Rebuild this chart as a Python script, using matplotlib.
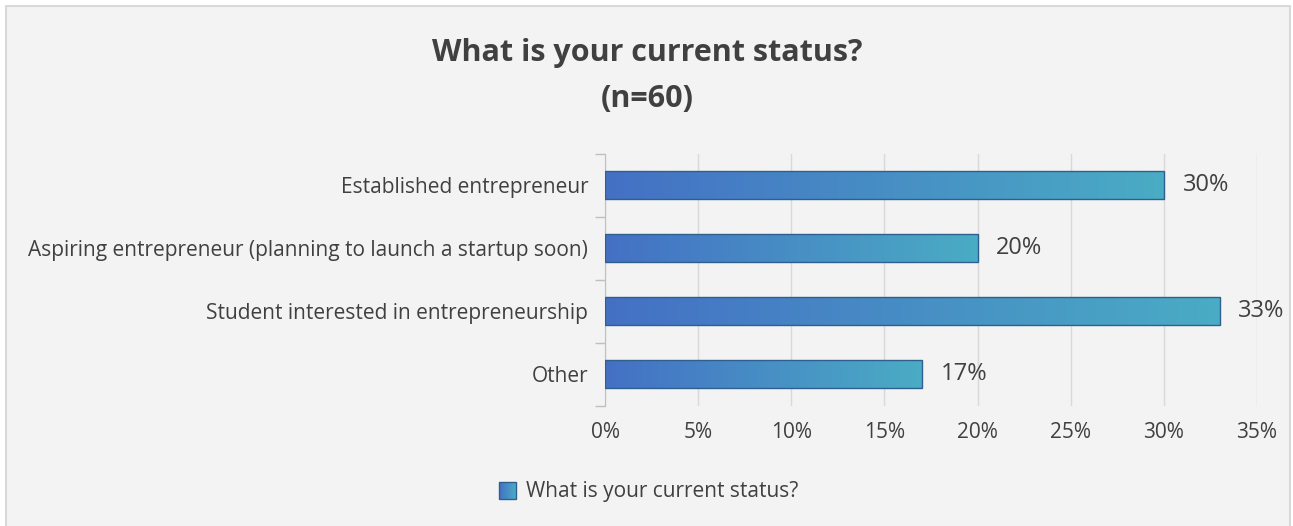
import numpy as np
import matplotlib
matplotlib.use("Agg")
import matplotlib.pyplot as plt
from matplotlib.colors import LinearSegmentedColormap
from matplotlib.patches import Rectangle
from matplotlib.legend_handler import HandlerPatch

# survey answers, share of respondents in percent
categories = ["Established entrepreneur",
              "Aspiring entrepreneur (planning to launch a startup soon)",
              "Student interested in entrepreneurship",
              "Other"]
shares = [30, 20, 33, 17]
x_ticks = [0, 5, 10, 15, 20, 25, 30, 35]
series_name = "What is your current status?"

plt.rcParams['font.family'] = ['Open Sans', 'DejaVu Sans']
text_col = '#404040'
bg = '#f3f3f3'
grad = LinearSegmentedColormap.from_list('bluegrad', ['#4470c4', '#4aacc5'])

fig = plt.figure(figsize=(12.93, 5.26), dpi=100, facecolor='white')
# chart area panel with thin border (runs off the bottom edge)
fig.patches.append(Rectangle((6 / 1293, -0.05), 1284 / 1293, 1.05 - 6 / 526, transform=fig.transFigure,
                             facecolor=bg, edgecolor='#d9d9d9', linewidth=1.5, zorder=-5))

ax = fig.add_axes([605 / 1293, 1 - 405.5 / 526, 652 / 1293, 252 / 526])
ax.set_facecolor(bg)

y = np.arange(len(categories))
bars = ax.barh(y, shares, height=0.43, color='none', edgecolor='#2f5f8f', linewidth=1.0, zorder=3)

# horizontal gradient fill clipped to each bar
gradient = np.linspace(0, 1, 256).reshape(1, -1)
for rect in bars:
    x0, yb = rect.get_x(), rect.get_y()
    w, h = rect.get_width(), rect.get_height()
    im = ax.imshow(gradient, cmap=grad, aspect='auto', extent=(x0, x0 + w, yb + h, yb),
                   zorder=2, interpolation='bilinear')
    im.set_clip_path(rect)

for yi, v in zip(y, shares):
    ax.text(v + 1.0, yi, f"{v}%", va='center', ha='left', fontsize=17, color=text_col)

ax.set_xlim(0, 35)
ax.set_ylim(len(categories) - 0.5, -0.5)
ax.set_xticks(x_ticks)
ax.set_xticklabels([f"{t}%" for t in x_ticks], fontsize=15, color=text_col)
ax.set_yticks(y)
ax.set_yticklabels(categories, fontsize=15, color=text_col)
ax.set_yticks(np.arange(-0.5, len(categories)), minor=True)
ax.tick_params(axis='y', which='major', length=0, pad=12)
ax.tick_params(axis='y', which='minor', length=7, color='#bfbfbf', width=1)
ax.tick_params(axis='x', length=0, pad=12)
ax.grid(axis='x', color='#d9d9d9', linewidth=1, zorder=0)
ax.set_axisbelow(True)
for s in ['top', 'right', 'bottom']:
    ax.spines[s].set_visible(False)
ax.spines['left'].set_color('#bfbfbf')

fig.text(647 / 1293, 1 - 53 / 526, "What is your current status?", ha='center', va='center',
         fontsize=22, fontweight='bold', color=text_col)
fig.text(647 / 1293, 1 - 99 / 526, "(n=60)", ha='center', va='center',
         fontsize=22, fontweight='bold', color=text_col)


class GradientSquare(HandlerPatch):
    def create_artists(self, legend, orig_handle, xdescent, ydescent, width, height, fontsize, trans):
        s = height * 1.15
        x0 = xdescent + (width - s) / 2
        y0 = -ydescent + (height - s) / 2
        img = matplotlib.image.BboxImage(
            matplotlib.transforms.TransformedBbox(
                matplotlib.transforms.Bbox.from_bounds(x0, y0, s, s), trans),
            cmap=grad, interpolation='bilinear')
        img.set_data(gradient)
        box = Rectangle((x0, y0), s, s, facecolor='none', edgecolor='#2f5f8f', linewidth=1.0,
                        transform=trans)
        return [img, box]


handle = Rectangle((0, 0), 1, 1)
fig.legend([handle], [series_name], handler_map={Rectangle: GradientSquare()},
           loc='center', bbox_to_anchor=(648 / 1293, 1 - 492 / 526), frameon=False,
           fontsize=15, handlelength=1.0, handletextpad=0.4, labelcolor=text_col)

fig.savefig('out.png', dpi=100, facecolor='white')
